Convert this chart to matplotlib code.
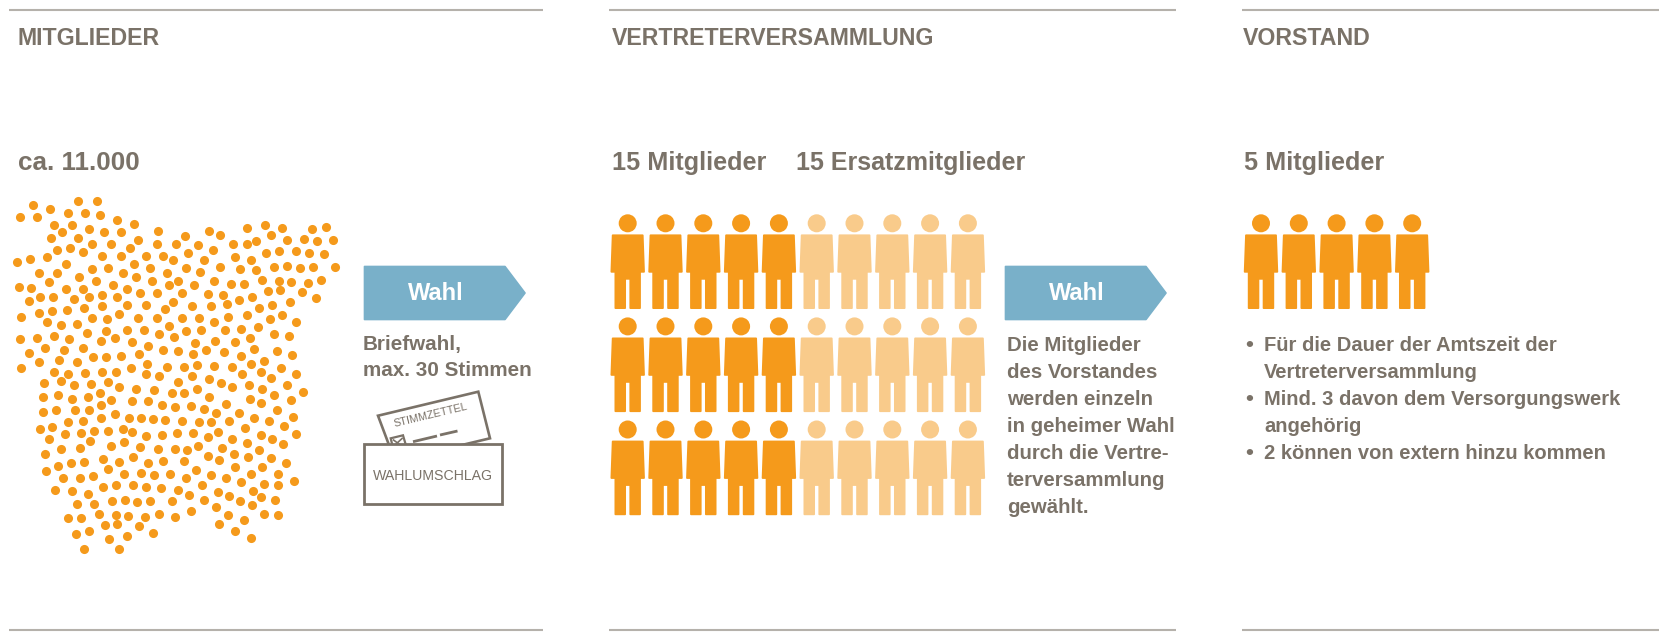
import numpy as np
import matplotlib
matplotlib.use("Agg")
import matplotlib.pyplot as plt
from matplotlib.patches import Circle, Polygon, Rectangle

plt.rcParams["font.family"] = ["Liberation Sans", "DejaVu Sans"]

ORANGE = "#f59a1b"
LIGHT_ORANGE = "#f9cb8b"
BLUE = "#79b0c9"
GREY = "#7a7268"
RULE_GREY = "#b5b1ab"

# Dots, upper part of the cloud (crop coordinates, 3x, origin 0/180)
dots_upper = [
    (235,62),(292,62),(99,75),(149,87),(61,111),(111,111),(204,98),(254,98),(300,106),(350,119),(401,131),
    (162,136),(216,135),(186,155),(266,148),(313,155),(363,155),(473,152),
    (153,173),(235,173),(275,191),(332,191),(414,180),(389,204),(470,193),(527,193),(556,169),(627,152),(661,165),(593,195),
    (742,144),(796,134),(845,143),(813,165),(699,191),(741,193),(768,184),(861,179),(935,146),(978,140),(911,176),(951,182),(999,181),
    (172,210),(209,204),(250,217),(638,209),(564,220),(797,220),(838,212),(888,213),(926,218),(971,223),
    (50,246),(89,236),(141,232),(198,253),(306,229),(363,229),(438,229),(488,229),(520,240),(612,241),(704,232),(753,239),
    (117,278),(172,278),(275,266),(325,265),(401,253),(451,265),(370,278),(501,278),(558,265),(601,277),(660,262),(719,268),(769,270),(823,260),(862,258),(900,263),(938,261),(1006,261),
    (237,290),(288,302),(407,291),(147,306),(338,315),(457,303),(533,303),(508,316),(583,315),(641,304),(693,313),(731,312),(785,301),(836,303),(874,307),(924,309),(964,301),
    (58,322),(94,325),(198,327),(248,328),(382,327),(803,332),(841,331),(905,336),
    (121,350),(160,351),(305,344),(268,352),(351,352),(420,340),(470,340),(545,339),(623,341),(669,345),(757,351),
    (87,364),(223,357),(520,365),(717,360),(949,355),(870,365),
    (305,379),(382,376),(438,376),(576,377),(633,377),(681,372),(816,375),
    (118,398),(156,392),(202,389),(253,384),(495,388),(777,384),
    (63,411),(277,414),(320,418),(357,401),(413,414),(470,414),(545,414),(596,414),(683,411),(741,406),(809,417),(847,404),
    (141,427),(184,434),(230,431),(641,425),(889,425),
    (508,438),(382,450),(318,452),(432,450),(603,450),(558,454),(676,450),(723,447),(775,441),
    (260,458),(476,462),(522,471),(823,462),(868,467),
    (60,478),(111,473),(163,468),(207,478),(344,474),(749,473),
    (302,484),(395,487),(586,488),(646,484),(704,485),
    (135,503),(249,503),(445,499),(761,506),
    (191,510),(488,511),(535,513),(618,510),(671,516),(580,521),(831,514),(877,526),
    (88,520),(416,522),(279,531),(319,530),(364,527),(723,528),
    (118,547),(176,541),(232,547),(440,552),(500,560),(552,562),(591,555),(642,558),(695,560),(754,551),(791,544),
    (64,565),(393,565),(842,565),
]

# Lower part of the cloud (crop coordinates, 3x, origin 0/370)
dots_lower = [
    (161,7),(204,13),(256,8),(307,5),(347,5),(437,13),(477,19),(577,19),(628,27),(727,13),(783,5),(813,24),(888,13),
    (133,39),(184,33),(222,46),(274,41),(325,36),(357,52),(409,56),(461,59),(533,36),(515,68),(553,69),(592,56),(664,39),(697,52),(747,44),(785,56),(862,44),(909,65),(821,75),
    (128,81),(173,76),(217,88),(263,82),(300,69),(334,89),(395,94),(443,93),(628,81),(751,87),(784,99),(872,90),
    (302,105),(486,105),(526,111),(573,109),(611,116),(679,103),(647,128),
    (129,127),(169,120),(225,120),(266,120),(344,132),(716,129),(832,121),
    (205,155),(250,152),(304,144),(388,144),(424,144),(458,147),(494,149),(546,152),(598,155),(633,156),(687,154),(762,143),(806,152),(880,141),(852,167),
    (120,178),(157,170),(370,177),(736,175),
    (194,193),(243,190),(283,183),(325,184),(397,187),(439,198),(487,196),(532,190),(580,189),(623,200),(655,187),(784,195),(889,192),
    (146,208),(270,214),(373,217),(695,206),(741,220),(817,208),(848,223),
    (184,238),(241,233),(332,229),(421,232),(473,236),(526,238),(561,240),(593,229),(666,233),(777,240),
    (136,253),(623,257),(702,251),(744,260),(656,270),(813,265),
    (308,266),(398,262),(214,278),(253,276),(356,275),(445,278),(489,272),(551,274),(859,280),
    (175,289),(139,303),(325,297),(587,299),(704,291),(785,291),
    (189,323),(239,324),(279,317),(372,311),(422,308),(461,315),(510,313),(559,325),(633,314),(678,323),(752,312),(833,311),
    (309,352),(349,344),(399,345),(437,350),(482,355),(535,359),(607,346),(724,337),(793,342),(835,345),(881,332),
    (165,361),(215,363),(264,371),(567,376),(655,366),(688,379),(760,362),(782,381),
    (230,401),(281,402),(335,392),(374,390),(411,395),(450,393),(516,392),(613,391),(720,393),(826,389),(755,406),(648,411),
    (296,433),(347,435),(385,439),(435,441),(476,433),(526,441),(573,422),(685,436),(791,431),(833,434),
    (204,445),(242,443),(731,450),
    (315,465),(352,463),(416,468),(656,461),
    (228,492),(268,484),(381,497),(459,488),(705,482),(753,503),(327,508),
    (253,538),(358,536),
]

headings = ["MITGLIEDER", "VERTRETERVERSAMMLUNG", "VORSTAND"]
heading_x = [17.5, 611.5, 1243]
rule_starts = [9, 609, 1242]
rule_ends = [543, 1176, 1659]

sub_labels = ["ca. 11.000", "15 Mitglieder", "15 Ersatzmitglieder", "5 Mitglieder"]
sub_x = [17.5, 612, 796, 1244]
sub_sizes = [18.8, 18.2, 18, 18.2]

members = 15
substitutes = 15
board = 5

left_note = ["Briefwahl,", "max. 30 Stimmen"]
mid_note = ["Die Mitglieder", "des Vorstandes", "werden einzeln", "in geheimer Wahl",
            "durch die Vertre-", "terversammlung", "gewählt."]
board_notes = ["Für die Dauer der Amtszeit der", "Vertreterversammlung",
               "Mind. 3 davon dem Versorgungswerk", "angehörig",
               "2 können von extern hinzu kommen"]
bullet_lines = [0, 2, 4]


# One pictogram, x/y is the centre of the head
def draw_person(ax, x, y, color):
    ax.add_patch(Circle((x, y), 9, fc=color, ec="none"))
    body = np.array([(-15, 12), (15, 12), (16.3, 48.5), (12.3, 48.5), (12.3, 84.8),
                     (2.6, 84.8), (2.6, 55.5), (-2.6, 55.5), (-2.6, 84.8), (-12.3, 84.8),
                     (-12.3, 48.5), (-16.3, 48.5)])
    ax.add_patch(Polygon(body + (x, y), closed=True, fc=color, ec=color, lw=1.3, joinstyle="round"))


# Grid of pictograms, three rows, filled column by column
def draw_people(ax, x0, counts_colors):
    rows_y = [223.3, 326.4, 429.5]
    step = 37.8
    col = 0
    for count, color in counts_colors:
        for i in range(count):
            y = rows_y[i % len(rows_y)] if count > 5 else rows_y[0]
            draw_person(ax, x0 + col * step, y, color)
            if count <= 5 or i % len(rows_y) == len(rows_y) - 1:
                col += 1


def draw_arrow(ax, left):
    top, bottom = 266.5, 319.5
    pts = [(left + 0.5, top), (left + 141, top), (left + 161, (top + bottom) / 2), (left + 141, bottom), (left + 0.5, bottom)]
    ax.add_patch(Polygon(pts, closed=True, fc=BLUE, ec=BLUE, lw=1.2, joinstyle="round"))
    ax.text(left + 72, 300.5, "Wahl", color="white", fontsize=17, fontweight="bold", ha="center", va="baseline")


def draw_ballot(ax):
    # ballot sticking out of the envelope, rotated by about 13.5 degrees
    corners = [(378, 415.7), (478.3, 391.7), (490, 438.3), (395, 461)]
    ax.add_patch(Polygon(corners, closed=True, fc="white", ec=GREY, lw=1.9, joinstyle="miter", zorder=2))
    ax.text(431, 415.5, "STIMMZETTEL", color=GREY, fontsize=7.8, rotation=13.5, rotation_mode="anchor",
            ha="center", va="center", zorder=3)
    ax.add_patch(Polygon([(390.7, 438.3), (403, 435.3), (407, 449), (394, 452)], closed=True,
                         fc="white", ec=GREY, lw=1.6, zorder=3))
    ax.plot([393.5, 403], [440, 447], color=GREY, lw=1.2, zorder=3)
    ax.plot([402, 394], [438.5, 446], color=GREY, lw=1.2, zorder=3)
    ax.plot([413, 437], [441.7, 436], color=GREY, lw=2, zorder=3, solid_capstyle="butt")
    ax.plot([440, 457.5], [435, 431], color=GREY, lw=2, zorder=3, solid_capstyle="butt")
    ax.add_patch(Rectangle((363.5, 444), 138.5, 59.5, fc="white", ec=GREY, lw=2, zorder=4))
    ax.text(432.7, 480, "WAHLUMSCHLAG", color=GREY, fontsize=10.2, ha="center", va="baseline", zorder=5)


fig = plt.figure(figsize=(16.67, 6.38), dpi=100)
ax = fig.add_axes([0, 0, 1, 1])
ax.set_xlim(0, 1667)
ax.set_ylim(638, 0)
ax.axis("off")

# rules and headings
for start, end, label, x in zip(rule_starts, rule_ends, headings, heading_x):
    ax.plot([start, end], [9.5, 9.5], color=RULE_GREY, lw=1.5, solid_capstyle="butt")
    ax.plot([start, end], [629.5, 629.5], color=RULE_GREY, lw=1.5, solid_capstyle="butt")
    ax.text(x, 45, label, color=GREY, fontsize=16.7, fontweight="bold", va="baseline")

for label, x, size in zip(sub_labels, sub_x, sub_sizes):
    ax.text(x, 170, label, color=GREY, fontsize=size, fontweight="bold", va="baseline")

# dot cloud
upper = np.array(dots_upper, dtype=float)
lower = np.array(dots_lower, dtype=float)
dot_x = np.concatenate([upper[:, 0], lower[:, 0]]) / 3
dot_y = np.concatenate([upper[:, 1] / 3 + 180, lower[:, 1] / 3 + 370])
ax.scatter(dot_x, dot_y, s=43, color=ORANGE, linewidths=0)

draw_arrow(ax, 364)
draw_arrow(ax, 1005)

for i, line in enumerate(left_note):
    ax.text(363, 350 + i * 26, line, color=GREY, fontsize=14.9, fontweight="bold", va="baseline")
draw_ballot(ax)

draw_people(ax, 627.7, [(members, ORANGE), (substitutes, LIGHT_ORANGE)])
draw_people(ax, 1261, [(board, ORANGE)])

for i, line in enumerate(mid_note):
    ax.text(1007, 351 + i * 27, line, color=GREY, fontsize=14.65, fontweight="bold", va="baseline")

for i, line in enumerate(board_notes):
    if i in bullet_lines:
        ax.text(1245.5, 351 + i * 27, "•", color=GREY, fontsize=16, fontweight="bold", va="baseline")
    ax.text(1264, 351 + i * 27, line, color=GREY, fontsize=14.5, fontweight="bold", va="baseline")

fig.savefig("out.png", dpi=100)
